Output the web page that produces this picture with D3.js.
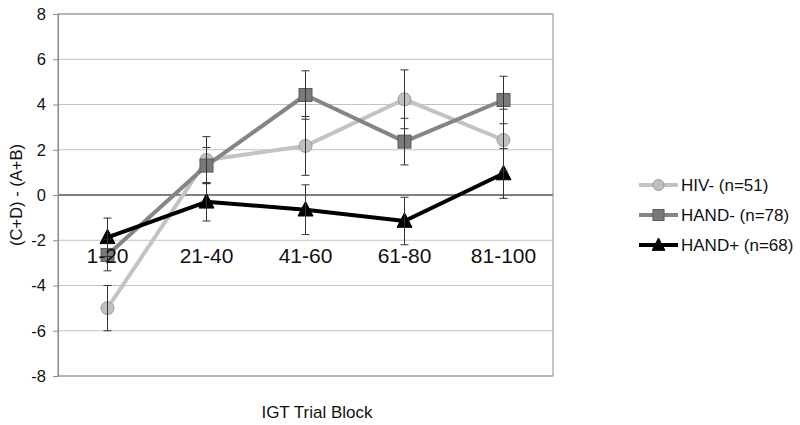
<!DOCTYPE html>
<html>
<head>
<meta charset="utf-8">
<script src="https://cdn.jsdelivr.net/npm/d3@7/dist/d3.min.js"></script>
<style>
body{margin:0;background:#fff;}
svg{display:block;font-family:"Liberation Sans",Arial,sans-serif;}
</style>
</head>
<body>
<svg id="chart" width="800" height="425"></svg>
<script>
const categories = ["1-20","21-40","41-60","61-80","81-100"];
const yTicks = [-8,-6,-4,-2,0,2,4,6,8];
const seriesNames = ["HIV- (n=51)","HAND- (n=78)","HAND+ (n=68)"];
const hivNeg = [-5.0, 1.55, 2.17, 4.23, 2.43];
const hivNegErr = [1.0, 1.03, 1.3, 1.3, 1.36];
const handNeg = [-2.65, 1.3, 4.42, 2.36, 4.2];
const handNegErr = [0.7, 0.8, 1.07, 1.03, 1.05];
const handPos = [-1.87, -0.3, -0.65, -1.15, 0.95];
const handPosErr = [0.85, 0.85, 1.1, 1.05, 1.1];

const series = [
  {name: seriesNames[0], values: hivNeg, err: hivNegErr, line: "#c3c3c3", fill: "#c0c0c0", stroke: "#9a9a9a", shape: "circle"},
  {name: seriesNames[1], values: handNeg, err: handNegErr, line: "#858585", fill: "#7a7a7a", stroke: "#5a5a5a", shape: "square"},
  {name: seriesNames[2], values: handPos, err: handPosErr, line: "#000000", fill: "#000000", stroke: "#000000", shape: "triangle"}
];

const svg = d3.select("#chart");
const L = 58, R = 553, T = 14, B = 376;
const x = d3.scaleBand().domain(categories).range([L, R]);
const y = d3.scaleLinear().domain([-8, 8]).range([B, T]);

// gridlines
svg.append("g").selectAll("line").data(yTicks.filter(d => d !== 0)).join("line")
  .attr("x1", L).attr("x2", R)
  .attr("y1", d => y(d)).attr("y2", d => y(d))
  .attr("stroke", "#c2c2c2").attr("stroke-width", 1.2);

// plot border
svg.append("rect").attr("x", L).attr("y", T).attr("width", R - L).attr("height", B - T)
  .attr("fill", "none").attr("stroke", "#8a8a8a").attr("stroke-width", 1);

// y axis
const yAxis = d3.axisLeft(y).tickValues(yTicks).tickSize(5).tickPadding(7).tickFormat(d => String(d));
const ya = svg.append("g").attr("transform", `translate(${L},0)`).call(yAxis);
ya.select(".domain").attr("stroke", "#8a8a8a");
ya.selectAll(".tick line").attr("stroke", "#8a8a8a");
ya.selectAll("text").attr("font-size", 16.5).attr("fill", "#111")
  .style("font-family", "'Liberation Sans', Arial, sans-serif");

// zero line
svg.append("line").attr("x1", L).attr("x2", R).attr("y1", y(0)).attr("y2", y(0))
  .attr("stroke", "#808080").attr("stroke-width", 2.2);

// lines
const lineGen = d3.line().x((d, i) => x(categories[i]) + x.bandwidth() / 2).y(d => y(d));
series.forEach(s => {
  svg.append("path").datum(s.values).attr("d", lineGen)
    .attr("fill", "none").attr("stroke", s.line).attr("stroke-width", 4)
    .attr("stroke-linejoin", "round");
});

function drawMarker(g, shape, cx, cy, fill, stroke, scale) {
  scale = scale || 1;
  if (shape === "circle") {
    g.append("circle").attr("cx", cx).attr("cy", cy).attr("r", 6.5 * scale)
      .attr("fill", fill).attr("stroke", stroke).attr("stroke-width", 1);
  } else if (shape === "square") {
    const s = 13 * scale;
    g.append("rect").attr("x", cx - s / 2).attr("y", cy - s / 2).attr("width", s).attr("height", s)
      .attr("fill", fill).attr("stroke", stroke).attr("stroke-width", 1);
  } else {
    const s = 15 * scale;
    g.append("path").attr("d", `M${cx},${cy - s * 0.55}L${cx + s / 2},${cy + s * 0.42}L${cx - s / 2},${cy + s * 0.42}Z`)
      .attr("fill", fill).attr("stroke", stroke).attr("stroke-width", 1);
  }
}

// markers
series.forEach(s => {
  const g = svg.append("g");
  s.values.forEach((v, i) => drawMarker(g, s.shape, x(categories[i]) + x.bandwidth() / 2, y(v), s.fill, s.stroke));
});

// error bars
series.forEach(s => {
  const g = svg.append("g").attr("stroke", "#333").attr("stroke-width", 1);
  s.values.forEach((v, i) => {
    const cx = x(categories[i]) + x.bandwidth() / 2;
    const y1 = y(v + s.err[i]), y2 = y(v - s.err[i]);
    g.append("line").attr("x1", cx).attr("x2", cx).attr("y1", y1).attr("y2", y2);
    g.append("line").attr("x1", cx - 4).attr("x2", cx + 4).attr("y1", y1).attr("y2", y1);
    g.append("line").attr("x1", cx - 4).attr("x2", cx + 4).attr("y1", y2).attr("y2", y2);
  });
});

// category labels (drawn inside plot, Excel-style)
svg.append("g").selectAll("text").data(categories).join("text")
  .attr("x", d => x(d) + x.bandwidth() / 2).attr("y", 263)
  .attr("text-anchor", "middle").attr("font-size", 21).attr("fill", "#111")
  .text(d => d);

// axis titles
svg.append("text").attr("transform", `translate(22,${y(0)}) rotate(-90)`)
  .attr("text-anchor", "middle").attr("font-size", 16.5).attr("fill", "#111")
  .text("(C+D) - (A+B)");
svg.append("text").attr("x", 317).attr("y", 418).attr("text-anchor", "middle")
  .attr("font-size", 17).attr("fill", "#111").text("IGT Trial Block");

// legend
const lg = svg.append("g");
const legendY = [185, 215, 245];
series.forEach((s, i) => {
  const ly = legendY[i];
  lg.append("line").attr("x1", 639).attr("x2", 678).attr("y1", ly).attr("y2", ly)
    .attr("stroke", s.line).attr("stroke-width", 4);
  drawMarker(lg, s.shape, 658.5, ly, s.fill, s.stroke, 0.85);
  lg.append("text").attr("x", 681).attr("y", ly + 6).attr("font-size", 17).attr("fill", "#111").text(s.name);
});
</script>
</body>
</html>
